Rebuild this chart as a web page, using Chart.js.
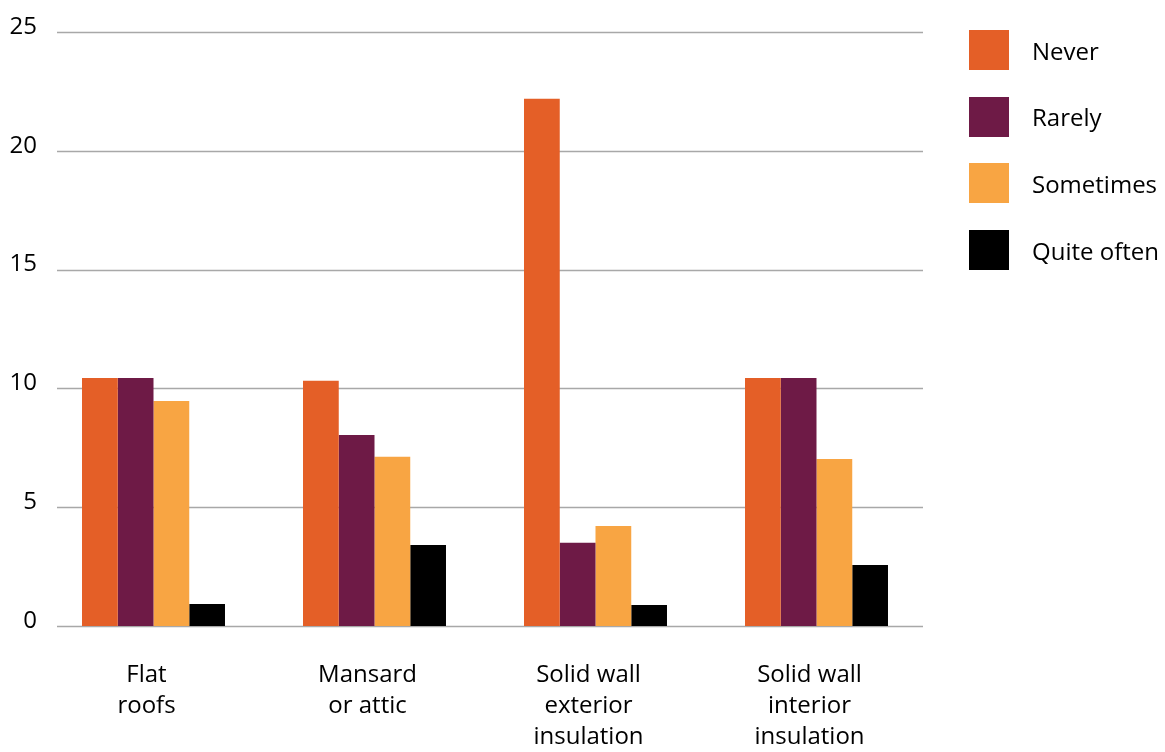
<!DOCTYPE html>
<html>
<head>
<meta charset="utf-8">
<script src="https://cdn.jsdelivr.net/npm/chart.js@4"></script>
<style>
  html, body { margin: 0; padding: 0; background: #fff; }
  #wrap { position: relative; width: 1165px; height: 752px; }
  #legend { position: absolute; left: 969px; top: 30px; font-family: "Open Sans", sans-serif; font-size: 24px; color: #000; }
  .item { display: flex; align-items: center; height: 40px; margin-bottom: 26.7px; }
  .box { width: 40px; height: 40px; margin-right: 23px; }
</style>
</head>
<body>
<div id="wrap">
  <canvas id="chart" width="1165" height="752"></canvas>
  <div id="legend"></div>
</div>
<script>
const categories = [
  ["Flat", "roofs"],
  ["Mansard", "or attic"],
  ["Solid wall", "exterior", "insulation"],
  ["Solid wall", "interior", "insulation"],
];
const seriesNames = ["Never", "Rarely", "Sometimes", "Quite often"];
const never = [10.44, 10.32, 22.19, 10.44];
const rarely = [10.44, 8.04, 3.5, 10.44];
const sometimes = [9.47, 7.12, 4.21, 7.03];
const quiteOften = [0.93, 3.41, 0.88, 2.57];
const yTicks = [0, 5, 10, 15, 20, 25];

const colors = ["#E45F27", "#6E1A46", "#F8A543", "#000000"];
const values = [never, rarely, sometimes, quiteOften];

// horizontal grid lines, a bit narrower than the category band
const hGrid = {
  id: "hGrid",
  beforeDatasetsDraw(chart) {
    const ctx = chart.ctx;
    const y = chart.scales.y;
    ctx.save();
    ctx.strokeStyle = "#a8a8a8";
    ctx.lineWidth = 1.5;
    y.ticks.forEach((t) => {
      const py = Math.round(y.getPixelForValue(t.value)) + 0.5;
      ctx.beginPath();
      ctx.moveTo(57, py);
      ctx.lineTo(923, py);
      ctx.stroke();
    });
    ctx.restore();
  },
};

const ctx = document.getElementById("chart");
const chart = new Chart(ctx, {
  type: "bar",
  data: {
    labels: categories,
    datasets: seriesNames.map((name, i) => ({
      label: name,
      data: values[i],
      backgroundColor: colors[i],
      borderWidth: 0,
      categoryPercentage: 0.647,
      barPercentage: 1,
    })),
  },
  options: {
    responsive: false,
    animation: false,
    layout: { padding: { top: 32, right: 238, left: 0, bottom: 0 } },
    plugins: {
      legend: { display: false },
      tooltip: { enabled: false },
    },
    scales: {
      x: {
        grid: { display: false, drawTicks: false },
        border: { display: false },
        ticks: {
          color: "#000",
          padding: 33,
          labelOffset: -7,
          font: { family: "Open Sans", size: 24, lineHeight: 1.31 },
          maxRotation: 0,
        },
        afterFit(scale) { scale.height = 126; },
      },
      y: {
        min: 0,
        max: 25,
        grid: { display: false, drawTicks: false },
        border: { display: false },
        afterBuildTicks(scale) { scale.ticks = yTicks.map((v) => ({ value: v })); },
        ticks: {
          color: "#000",
          padding: 6,
          labelOffset: -5,
          font: { family: "Open Sans", size: 24 },
        },
        afterFit(scale) { scale.width = 43; },
      },
    },
  },
  plugins: [hGrid],
});

// legend built from the chart's datasets
const legend = document.getElementById("legend");
chart.data.datasets.forEach((ds) => {
  const item = document.createElement("div");
  item.className = "item";
  const box = document.createElement("div");
  box.className = "box";
  box.style.background = ds.backgroundColor;
  const label = document.createElement("span");
  label.textContent = ds.label;
  item.appendChild(box);
  item.appendChild(label);
  legend.appendChild(item);
});
</script>
</body>
</html>
